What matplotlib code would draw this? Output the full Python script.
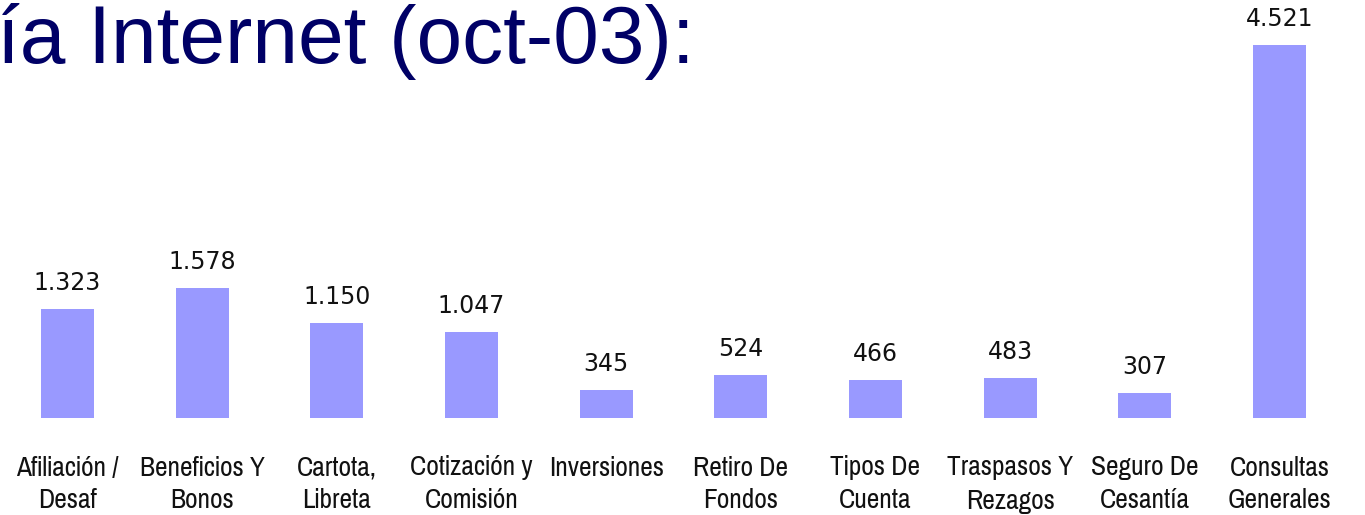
import matplotlib
matplotlib.use("Agg")
import matplotlib.pyplot as plt
from matplotlib import font_manager

categories = ["Afiliación /\nDesaf", "Beneficios Y\nBonos", "Cartota,\nLibreta",
              "Cotización y\nComisión", "Inversiones", "Retiro De\nFondos",
              "Tipos De\nCuenta", "Traspasos Y\nRezagos", "Seguro De\nCesantía",
              "Consultas\nGenerales"]
values = [1323, 1578, 1150, 1047, 345, 524, 466, 483, 307, 4521]
value_labels = ["1.323", "1.578", "1.150", "1.047", "345", "524", "466", "483", "307", "4.521"]
title_text = "ía Internet (oct-03):"

W, H = 1365, 515
fig = plt.figure(figsize=(W / 100, H / 100), dpi=100)
renderer = fig.canvas.get_renderer()

# choose the installed narrow sans whose width is closest to the reference (~99 px for "Afiliación /")
names = {f.name for f in font_manager.fontManager.ttflist}
cands = ["Liberation Sans Narrow", "Arial Narrow", "PT Sans Narrow", "Archivo Narrow",
         "Roboto Condensed", "Pragati Narrow", "Open Sans Condensed"]
best, best_err = None, 1e9
for c in cands:
    if c not in names:
        continue
    t = fig.text(0, 0, "Afiliación /", fontsize=20, family=c)
    w = t.get_window_extent(renderer).width
    t.remove()
    if abs(w - 99) < best_err:
        best, best_err = c, abs(w - 99)
cat_family = [best, "DejaVu Sans"] if best else ["DejaVu Sans"]
title_family = ["Liberation Sans", "Arimo", "DejaVu Sans"]

base_px = 418
ax = fig.add_axes([0, (H - base_px) / H, 1, base_px / H])

x = list(range(len(categories)))
ax.bar(x, values, width=0.394, color="#9999FF", edgecolor="none")
spacing = (1279.5 - 67.5) / 9
ax.set_xlim(-67.5 / spacing, (W - 67.5) / spacing)
ax.set_ylim(0, base_px / 0.0825)

for xi, v, lab in zip(x, values, value_labels):
    ax.annotate(lab, (xi, v), xytext=(0, 13.5), textcoords="offset points",
                ha="center", va="baseline", fontsize=17, family="DejaVu Sans",
                color="#111111")

ax.set_xticks(x)
ax.set_xticklabels(categories, fontsize=21.5, family=cat_family, color="#111111",
                   linespacing=1.4)
ax.tick_params(axis="x", length=0, pad=27)
ax.set_yticks([])
for s in ax.spines.values():
    s.set_visible(False)
ax.patch.set_alpha(0)

fig.text(-3 / W, 1 - 63 / H, title_text, fontsize=59, family=title_family,
         color="#000066", ha="left", va="baseline")

fig.savefig("out.png", dpi=100, facecolor="white")
